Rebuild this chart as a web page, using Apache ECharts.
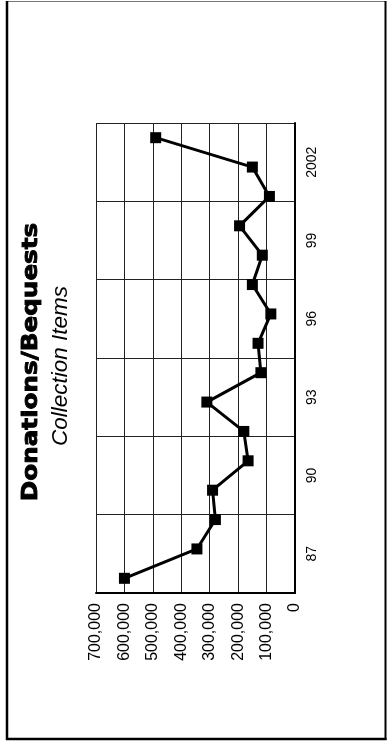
<!DOCTYPE html>
<html>
<head>
<meta charset="utf-8">
<style>
  html, body { margin: 0; padding: 0; background: #fff; }
  #chart { width: 389px; height: 745px; }
</style>
<script src="https://cdn.jsdelivr.net/npm/echarts@6/dist/echarts.min.js"></script>
</head>
<body>
<div id="chart"></div>
<script>
// Reporting periods, one per plotted point (earliest first)
const periods = ['P01', 'P02', 'P03', 'P04', 'P05', 'P06', 'P07', 'P08',
                 'P09', 'P10', 'P11', 'P12', 'P13', 'P14', 'P15', 'P16'];
// Collection items received by donation or bequest
const items = [600000, 345000, 280000, 290000, 165000, 180000, 310000, 120000,
               130000, 85000, 150000, 115000, 195000, 90000, 150000, 490000];
// Year labels shown along the time axis, one per three-year band
const yearLabels = ['87', '90', '93', '96', '99', '2002'];
// Value axis ticks
const valueTicks = [0, 100000, 200000, 300000, 400000, 500000, 600000, 700000];

const chart = echarts.init(document.getElementById('chart'), null, { renderer: 'canvas' });
const fmt = v => v.toLocaleString('en-US');
const axisFont = 'Liberation Sans, Arial, sans-serif';

const option = {
  backgroundColor: '#fff',
  animation: false,
  grid: { left: 96, top: 123, width: 199, height: 470, containLabel: false },
  xAxis: {
    type: 'value',
    min: valueTicks[0],
    max: valueTicks[valueTicks.length - 1],
    interval: valueTicks[1] - valueTicks[0],
    inverse: true,
    position: 'bottom',
    axisLine: { show: true, lineStyle: { color: '#000', width: 2 } },
    axisTick: { show: false },
    splitLine: { show: true, lineStyle: { color: '#222', width: 1 } },
    axisLabel: {
      rotate: 90, margin: 10, color: '#000', fontSize: 16, fontFamily: axisFont,
      formatter: fmt
    }
  },
  yAxis: [
    {
      type: 'category',
      data: periods,
      boundaryGap: true,
      show: false
    },
    {
      type: 'category',
      data: yearLabels,
      boundaryGap: true,
      position: 'right',
      axisLine: { show: true, lineStyle: { color: '#000', width: 2 } },
      axisTick: { show: false },
      splitLine: { show: true, lineStyle: { color: '#222', width: 1 } },
      axisLabel: {
        rotate: 90, margin: 10, color: '#000', fontSize: 14, fontFamily: axisFont
      }
    }
  ],
  series: [{
    type: 'line',
    yAxisIndex: 0,
    data: items.map((v, i) => [v, periods[i]]),
    symbol: 'rect',
    symbolSize: 11,
    lineStyle: { color: '#000', width: 3 },
    itemStyle: { color: '#000' },
    z: 5
  }],
  graphic: [
    // page frame
    { type: 'line', shape: { x1: 7, y1: 1.5, x2: 386, y2: 1.5 }, style: { stroke: '#777', lineWidth: 1 } },
    { type: 'line', shape: { x1: 7, y1: 1, x2: 7, y2: 740 }, style: { stroke: '#000', lineWidth: 2.5 } },
    { type: 'line', shape: { x1: 385.5, y1: 1, x2: 385.5, y2: 740 }, style: { stroke: '#000', lineWidth: 2 } },
    { type: 'line', shape: { x1: 6, y1: 739, x2: 386.5, y2: 739 }, style: { stroke: '#000', lineWidth: 2.5 } },
    // titles, running up the page
    {
      type: 'text', x: 31, y: 362, rotation: Math.PI / 2, scaleX: 1.12,
      style: {
        text: 'Donations/Bequests', fill: '#000',
        stroke: '#000', lineWidth: 0.9,
        font: '900 22px "DejaVu Sans", sans-serif',
        align: 'center', verticalAlign: 'middle'
      }
    },
    {
      type: 'text', x: 61, y: 366, rotation: Math.PI / 2,
      style: {
        text: 'Collection Items', fill: '#000',
        font: 'italic 22.5px "Liberation Sans", Arial, sans-serif',
        align: 'center', verticalAlign: 'middle'
      }
    }
  ]
};
chart.setOption(option);
</script>
</body>
</html>
